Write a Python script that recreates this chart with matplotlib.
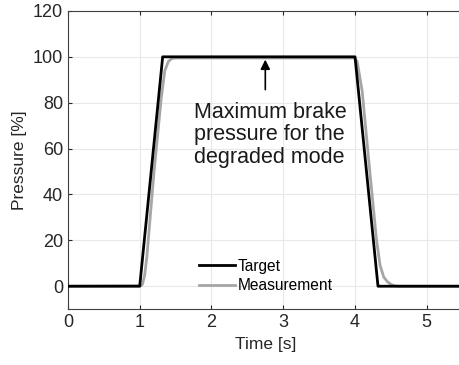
import matplotlib.pyplot as plt

plt.rcParams['font.family'] = ['Liberation Sans', 'DejaVu Sans']

# Target pressure profile
t_target = [0, 1.0, 1.32, 4.0, 4.32, 5.5]
p_target = [0, 0, 100, 100, 0, 0]

# Measured pressure
t_meas = [0, 1.02, 1.04, 1.07, 1.1, 1.2, 1.3, 1.35, 1.4, 1.45, 1.5, 2.0, 3.0, 3.99,
          4.03, 4.1, 4.2, 4.3, 4.35, 4.4, 4.45, 4.5, 4.55, 4.6, 5.5]
p_meas = [0, 0.2, 1, 5, 13, 50, 82, 94, 98, 99.3, 99.5, 99.5, 99.5, 99.5,
          98, 85, 52, 20, 9, 4, 2, 0.8, 0.2, 0, 0]

fig = plt.figure(figsize=(4.59, 3.65), dpi=100)
ax = fig.add_axes([0.148, 0.153, 0.86, 0.817])

ax.plot(t_target, p_target, color='black', lw=2, label='Target', zorder=3)
ax.plot(t_meas, p_meas, color='#a6a6a6', lw=2, label='Measurement', zorder=2)

ax.set_xlim(0, 5.5)
ax.set_ylim(-10, 120)
ax.set_xticks([0, 1, 2, 3, 4, 5])
ax.set_yticks([0, 20, 40, 60, 80, 100, 120])
ax.grid(True, color='#e8e8e8', lw=0.8)
ax.tick_params(direction='in', top=True, right=True, labelsize=13, colors='#262626', length=3)
for s in ax.spines.values():
    s.set_color('#404040')
    s.set_linewidth(0.8)

ax.set_xlabel('Time [s]', fontsize=12.5, color='#262626')
ax.set_ylabel('Pressure [%]', fontsize=12.5, color='#262626')

ax.annotate('', xy=(2.75, 100), xytext=(2.75, 84.5),
            arrowprops=dict(arrowstyle='-|>', color='black', lw=1.2, mutation_scale=14))
ax.text(1.75, 80.5, 'Maximum brake\npressure for the\ndegraded mode', fontsize=15.5,
        va='top', ha='left', linespacing=1.12, color='#1a1a1a')

ax.legend(loc='upper left', bbox_to_anchor=(0.312, 0.195), frameon=False, fontsize=11.2,
          handlelength=2.3, handletextpad=0.2, labelspacing=0.3, borderpad=0)

fig.savefig('out.png', dpi=100)
